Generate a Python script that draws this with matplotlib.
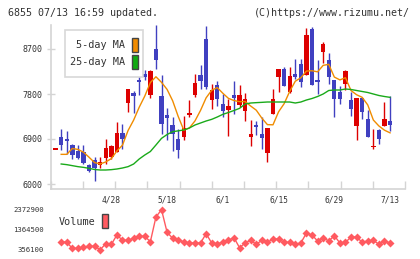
import numpy as np
import matplotlib
matplotlib.use('Agg')
import matplotlib.pyplot as plt
from matplotlib.patches import Rectangle
from matplotlib.transforms import Affine2D

plt.rcParams['font.family'] = ['DejaVu Sans Mono']

# ---------------- data ----------------
opens = [6700, 6950, 6900, 6780, 6660, 6640, 6390, 6480, 6390, 6530,
         6550, 6650, 7030, 7630, 7830, 8080, 8200, 7780, 8700, 7760,
         7390, 7190, 6910, 6950, 7380, 7780, 8180, 8900, 7690, 7990,
         7600, 7480, 7780, 7580, 7470, 6950, 7180, 7000, 6630, 7400,
         8150, 8310, 7850, 8200, 8400, 8190, 9100, 8090, 8650, 8490,
         8090, 7840, 8000, 7690, 7160, 7730, 7300, 6750, 7080, 7160,
         7260]
highs = [6700, 7100, 7060, 6800, 6780, 6780, 6400, 6550, 6550, 6910,
         6780, 7250, 7200, 7910, 7870, 8430, 8280, 8290, 9180, 8180,
         7530, 7350, 7110, 7370, 7680, 8200, 8380, 9160, 8010, 8060,
         7800, 7710, 8060, 7980, 7830, 7280, 7270, 7340, 7130, 7910,
         8310, 8350, 8350, 8510, 8510, 9130, 9150, 8480, 8850, 8630,
         8090, 7960, 8290, 7850, 7730, 7730, 7480, 7110, 7110, 7650,
         7760]
lows = [6700, 6680, 6610, 6510, 6510, 6400, 6250, 6070, 6330, 6400,
        6510, 6650, 6710, 7450, 7430, 7780, 8080, 7730, 8310, 7010,
        6890, 6670, 6530, 6880, 7350, 7750, 7910, 7900, 7510, 7560,
        7350, 6960, 7400, 7550, 7270, 6760, 6980, 6700, 6450, 7400,
        7850, 7960, 7830, 8110, 7950, 8190, 7990, 7800, 8430, 8010,
        7350, 7600, 7890, 7360, 6880, 7310, 6950, 6710, 6810, 7160,
        7070]
closes = [6700, 6780, 6870, 6580, 6530, 6430, 6270, 6330, 6450, 6730,
          6760, 7030, 6910, 7910, 7770, 8050, 8150, 8270, 8490, 7210,
          7330, 7010, 6690, 7130, 7430, 8030, 8070, 7950, 7890, 7700,
          7470, 7560, 7730, 7780, 7710, 7010, 7150, 6930, 7130, 7700,
          8310, 7960, 8160, 8150, 8050, 8980, 7990, 8050, 8800, 8150,
          7710, 7710, 8270, 7510, 7730, 7450, 6950, 6760, 6910, 7310,
          7180]

# moving averages and volume start at the second session
ma5 = [6593, 6593, 6710, 6692, 6637, 6535, 6428, 6401, 6441, 6508,
       6661, 6777, 7070, 7278, 7536, 7759, 8029, 8145, 8033, 7891,
       7664, 7349, 7077, 7121, 7261, 7472, 7723, 7875, 7928, 7815,
       7713, 7669, 7647, 7649, 7559, 7476, 7317, 7187, 7184, 7444,
       7607, 7853, 8056, 8125, 8259, 8265, 8243, 8373, 8393, 8139,
       8082, 8126, 7868, 7785, 7733, 7581, 7280, 7160, 7076, 7023]
ma25 = [6400, 6387, 6367, 6347, 6333, 6313, 6290, 6280, 6280, 6287,
        6300, 6320, 6347, 6400, 6500, 6580, 6650, 6780, 6913, 6990,
        7047, 7063, 7080, 7120, 7180, 7220, 7260, 7293, 7340, 7393,
        7430, 7470, 7513, 7600, 7620, 7627, 7633, 7640, 7640, 7640,
        7640, 7640, 7620, 7640, 7680, 7710, 7750, 7800, 7870, 7880,
        7880, 7900, 7890, 7870, 7850, 7830, 7800, 7770, 7750, 7733]
volume = [724000, 694000, 391000, 391000, 457000, 492000, 492000, 321000, 623000, 593000,
          1062000, 795000, 795000, 896000, 996000, 996000, 724000, 1970000, 2338000, 1198000,
          896000, 795000, 724000, 659000, 659000, 659000, 1128000, 659000, 623000, 694000,
          795000, 926000, 422000, 659000, 795000, 593000, 795000, 694000, 860000, 860000,
          694000, 694000, 593000, 659000, 1163000, 1062000, 759000, 926000, 759000, 1027000,
          659000, 694000, 961000, 961000, 694000, 759000, 795000, 593000, 759000, 659000]

date_labels = ['4/28', '5/18', '6/1', '6/15', '6/29', '7/13']
date_index = [10, 20, 30, 40, 50, 60]
price_ticks = [6000, 6900, 7800, 8700]
volume_ticks = [356100, 1364500, 2372900]

# ---------------- style ----------------
W, H = 420, 259
UP = '#dd0000'
DOWN = '#4040c0'
C_MA5 = '#f08c00'
C_MA25 = '#1aaa1a'
C_VOL = '#ff5a60'
GRID = '#d4d4d4'
TXT = '#333333'

fig = plt.figure(figsize=(W / 100, H / 100), dpi=100)
px = Affine2D().scale(1 / W, -1 / H).translate(0, 1) + fig.transFigure

L_PX, R_PX = 50.7, 405.0
ax = fig.add_axes([L_PX / W, 1 - 189 / H, (R_PX - L_PX) / W, (189 - 25) / H])
vax = fig.add_axes([L_PX / W, 1 - 255 / H, (R_PX - L_PX) / W, (255 - 203) / H])

idx = np.arange(len(opens))
xmin, xmax = -0.88, 62.68

# candles
for i in idx:
    o, h, l, c = opens[i], highs[i], lows[i], closes[i]
    col = UP if c >= o else DOWN
    ax.vlines(i, l, h, color=col, lw=1.0, zorder=2)
    lo = min(o, c)
    hgt = abs(c - o)
    if hgt < 25:
        lo = (o + c) / 2 - 12.5
        hgt = 25
    ax.bar(i, hgt, bottom=lo, width=0.78, color=col, linewidth=0, zorder=3)

ax.plot(idx[1:], ma5, color=C_MA5, lw=1.0, zorder=4)
ax.plot(idx[1:], ma25, color=C_MA25, lw=1.0, zorder=4)

ax.set_xlim(xmin, xmax)
ax.set_ylim(5900, 9180)
for s in ['top', 'right']:
    ax.spines[s].set_visible(False)
for s in ['left', 'bottom']:
    ax.spines[s].set_color(GRID)
    ax.spines[s].set_linewidth(1.2)
ax.set_yticks(price_ticks)
ax.set_yticklabels([str(v) for v in price_ticks])
ax.tick_params(axis='y', direction='inout', length=6, width=1, color=GRID,
               labelsize=6, labelcolor=TXT, pad=3)
ax.set_xticks(date_index)
ax.set_xticklabels(date_labels)
ax.set_xticks(np.linspace(xmin, xmax, 12), minor=True)
ax.tick_params(axis='x', which='major', length=0, labelsize=5.7, labelcolor=TXT, pad=5)
ax.tick_params(axis='x', which='minor', direction='in', length=6, width=1, color=GRID)

# volume
vax.plot(idx[1:], volume, color=C_VOL, lw=1.0, marker='D', ms=3.6, mec='none', zorder=3)
vax.set_xlim(xmin, xmax)
vax.set_ylim(53580, 2675420)
for s in vax.spines.values():
    s.set_visible(False)
vax.set_xticks([])
vax.set_yticks(volume_ticks)
vax.set_yticklabels([str(v) for v in volume_ticks])
vax.tick_params(axis='y', length=0, labelsize=5.2, labelcolor=TXT, pad=5)
vax.patch.set_alpha(0)

# header texts
fig.text(8 / W, 1 - 12.7 / H, '6855 07/13 16:59 updated.', fontsize=7.2, color=TXT,
         ha='left', va='center')
fig.text(410 / W, 1 - 12.7 / H, '(C)https://www.rizumu.net/', fontsize=7.2, color=TXT,
         ha='right', va='center')

# price legend
fig.add_artist(Rectangle((65, 30), 78.3, 46.7, transform=px, facecolor='white',
                         edgecolor='#d8d8d8', lw=1.2, zorder=5))
fig.text(125.5 / W, 1 - 45.5 / H, '5-day MA', fontsize=7.3, color=TXT, ha='right',
         va='center', zorder=6)
fig.text(125.5 / W, 1 - 62.3 / H, '25-day MA', fontsize=7.3, color=TXT, ha='right',
         va='center', zorder=6)
fig.add_artist(Rectangle((131.5, 37.5), 6.3, 14.5, transform=px, facecolor=C_MA5,
                         edgecolor='#444444', lw=1.0, zorder=6))
fig.add_artist(Rectangle((131.5, 54.5), 6.3, 14.5, transform=px, facecolor='#10aa10',
                         edgecolor='#444444', lw=1.0, zorder=6))

# volume legend
fig.text(58.5 / W, 1 - 222.3 / H, 'Volume', fontsize=7.3, color=TXT, ha='left',
         va='center', zorder=6)
fig.add_artist(Rectangle((101.5, 213.5), 6.2, 14.5, transform=px, facecolor=C_VOL,
                         edgecolor='#444444', lw=1.0, zorder=6))

fig.savefig('out.png', dpi=100)
